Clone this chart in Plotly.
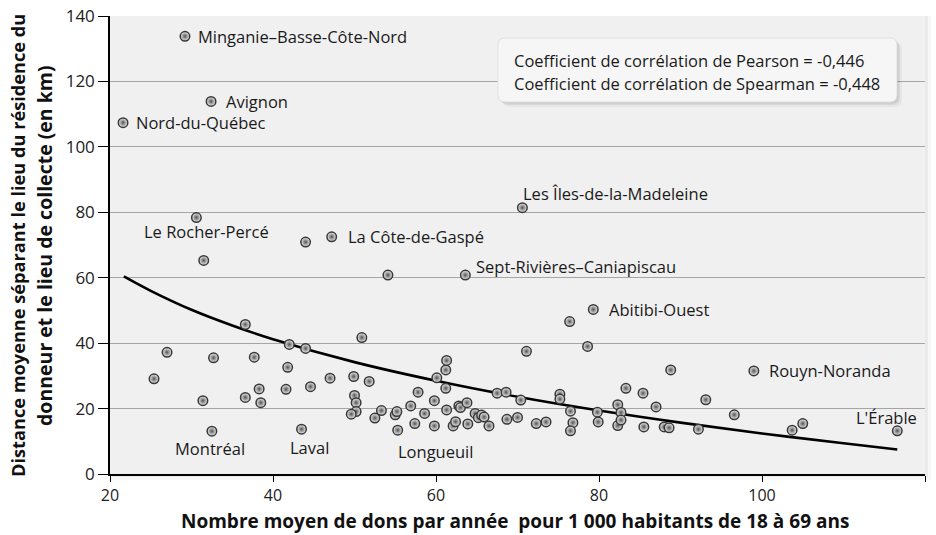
import plotly.graph_objects as go

# ---------------- data ----------------
x_pts = [25.4, 27.0, 31.4, 32.7, 36.6, 37.7, 36.6, 38.3, 38.5, 42.0, 44.0, 41.8, 41.6, 44.6, 47.0,
         50.9, 49.9, 51.8, 50.0, 50.2, 50.2, 49.6, 53.3, 52.5, 55.0, 55.2,
         56.9, 57.4, 57.8, 58.6, 59.8, 59.8, 60.1, 61.2, 61.2, 61.3, 61.3, 62.1, 62.4, 62.8, 63.0,
         63.8, 63.9, 64.8, 65.2, 65.6, 65.9, 66.5, 67.5, 68.6, 68.7, 70.0, 70.4, 71.1, 72.3, 73.5,
         75.2, 75.2, 76.4, 76.5, 76.8, 76.5, 78.6, 79.8, 79.9, 82.3, 82.7, 82.3, 82.7, 83.3, 85.4,
         85.5, 87.0, 88.0, 88.6, 88.8, 92.2, 93.1, 96.6, 103.7, 105.0,
         31.5, 44.0, 54.1]
y_pts = [29.1, 37.2, 22.4, 35.5, 45.7, 35.7, 23.4, 26.0, 21.8, 39.6, 38.4, 32.6, 25.9, 26.7, 29.3,
         41.7, 29.8, 28.3, 24.0, 21.8, 19.1, 18.3, 19.4, 17.1, 18.1, 19.1,
         20.8, 15.4, 25.0, 18.5, 14.7, 22.4, 29.4, 26.2, 31.8, 34.7, 19.6, 14.7, 16.0, 20.8, 20.3,
         21.8, 15.3, 18.5, 17.2, 18.0, 17.4, 14.7, 24.7, 25.0, 16.7, 17.3, 22.6, 37.5, 15.4, 15.9,
         24.4, 22.9, 46.6, 19.2, 15.7, 13.2, 39.0, 18.9, 15.9, 21.2, 18.8, 14.8, 16.5, 26.2, 24.7,
         14.4, 20.5, 14.4, 14.1, 31.8, 13.7, 22.7, 18.1, 13.4, 15.4,
         65.3, 70.9, 60.8]

lab_names = ["Minganie–Basse-Côte-Nord", "Avignon", "Nord-du-Québec", "Le Rocher-Percé",
             "La Côte-de-Gaspé", "Sept-Rivières–Caniapiscau", "Les Îles-de-la-Madeleine",
             "Abitibi-Ouest", "Rouyn-Noranda", "L'Érable", "Montréal", "Laval", "Longueuil"]
lab_x = [29.2, 32.4, 21.6, 30.6, 47.2, 63.6, 70.6, 79.3, 99.0, 116.6, 32.5, 43.5, 55.3]
lab_y = [133.8, 113.9, 107.4, 78.4, 72.5, 60.8, 81.4, 50.3, 31.5, 13.2, 13.1, 13.7, 13.4]

# fitted trend curve
curve_x = [21.7, 25, 30, 35, 40, 50, 60, 70, 80, 90, 100, 110, 116.6]
curve_y = [60.4, 56.0, 50.2, 45.4, 41.2, 34.2, 28.5, 23.6, 19.4, 15.7, 12.4, 9.4, 7.5]

x_ticks = [20, 40, 60, 80, 100, 120]
y_ticks = [0, 20, 40, 60, 80, 100, 120, 140]

stats_lines = ["Coefficient de corrélation de Pearson = -0,446",
               "Coefficient de corrélation de Spearman = -0,448"]
x_title = "Nombre moyen de dons par année  pour 1 000 habitants de 18 à 69 ans"
y_title = ["Distance moyenne séparant le lieu du résidence du",
           "donneur et le lieu de collecte (en km)"]

# label placement (anchor, xshift px, yshift px)
lab_style = [("left", 11, 0), ("left", 13, 0), ("left", 11, 0), ("center", 10, -14),
             ("left", 14, 0), ("left", 9, 9), ("left", -1, 14), ("left", 14, 0),
             ("left", 13, 0), ("right", 22, 13), ("center", -2, -17), ("center", 8, -18),
             ("center", 38, -21)]

FONT = "Open Sans"
LAB_SIZE = 16.5

fig = go.Figure()

marker = dict(size=9.5, color="#f0f0f0",
              gradient=dict(type="radial", color="#555555"),
              line=dict(color="#383838", width=1.5))

fig.add_trace(go.Scatter(x=curve_x, y=curve_y, mode="lines",
                         line=dict(color="black", width=2.6, shape="spline"),
                         hoverinfo="skip", showlegend=False))
fig.add_trace(go.Scatter(x=x_pts, y=y_pts, mode="markers", marker=marker,
                         showlegend=False))
fig.add_trace(go.Scatter(x=lab_x, y=lab_y, mode="markers", marker=marker,
                         text=lab_names, showlegend=False))

annotations = []
for name, xv, yv, (anc, xs, ys) in zip(lab_names, lab_x, lab_y, lab_style):
    annotations.append(dict(x=xv, y=yv, xref="x", yref="y", text=name, showarrow=False,
                            xanchor=anc, yanchor="middle", xshift=xs, yshift=ys,
                            font=dict(family=FONT, size=LAB_SIZE, color="#1a1a1a")))

# stats box text
for i, line in enumerate(stats_lines):
    annotations.append(dict(x=(512 - 110) / 815, y=(474 - (60 + 23.5 * i)) / 458,
                            xref="paper", yref="paper", text=line, showarrow=False,
                            xanchor="left", yanchor="middle",
                            font=dict(family=FONT, size=16.5, color="#1a1a1a")))

# axis titles
annotations.append(dict(x=(515 - 110) / 815, y=(474 - 521) / 458, xref="paper", yref="paper",
                        text="<b>" + x_title + "</b>", showarrow=False,
                        xanchor="center", yanchor="middle",
                        font=dict(family=FONT, size=19, color="#111")))
for line, cx, fs in zip(y_title, [18, 45], [18.2, 19.5]):
    annotations.append(dict(x=(cx - 110) / 815, y=(474 - 246) / 458, xref="paper", yref="paper",
                            text="<b>" + line + "</b>", showarrow=False, textangle=-90,
                            xanchor="center", yanchor="middle",
                            font=dict(family=FONT, size=fs, color="#111")))

# rounded stats box
def rounded_path(x0, y0, x1, y1, r):
    # pixel coords -> paper
    def px(x):
        return (x - 110) / 815
    def py(y):
        return (474 - y) / 458
    pts = [
        f"M {px(x0 + r)},{py(y0)}",
        f"L {px(x1 - r)},{py(y0)}",
        f"Q {px(x1)},{py(y0)} {px(x1)},{py(y0 + r)}",
        f"L {px(x1)},{py(y1 - r)}",
        f"Q {px(x1)},{py(y1)} {px(x1 - r)},{py(y1)}",
        f"L {px(x0 + r)},{py(y1)}",
        f"Q {px(x0)},{py(y1)} {px(x0)},{py(y1 - r)}",
        f"L {px(x0)},{py(y0 + r)}",
        f"Q {px(x0)},{py(y0)} {px(x0 + r)},{py(y0)}",
        "Z",
    ]
    return " ".join(pts)

shapes = []
for off, op in [(5, 0.04), (3, 0.06), (1.5, 0.08)]:
    shapes.append(dict(type="path", xref="paper", yref="paper",
                       path=rounded_path(498 + off, 38 + off, 897 + off, 102 + off, 7),
                       fillcolor=f"rgba(0,0,0,{op})", line=dict(width=0), layer="above"))
shapes.append(dict(type="path", xref="paper", yref="paper",
                   path=rounded_path(498, 38, 897, 102, 7),
                   fillcolor="#f6f6f6", line=dict(color="#e0e0e0", width=1), layer="above"))
# plot-area shadow on the right and below
for off, op in [(3, 0.05), (6, 0.03)]:
    shapes.append(dict(type="rect", xref="paper", yref="paper",
                       x0=1.0, x1=1.0 + off / 815, y0=-off / 458, y1=1.0,
                       fillcolor=f"rgba(0,0,0,{op})", line=dict(width=0), layer="below"))
    shapes.append(dict(type="rect", xref="paper", yref="paper",
                       x0=0.0, x1=1.0, y0=-off / 458, y1=0.0,
                       fillcolor=f"rgba(0,0,0,{op})", line=dict(width=0), layer="below"))

fig.update_layout(
    width=936, height=535,
    margin=dict(l=110, r=11, t=16, b=61),
    paper_bgcolor="white", plot_bgcolor="#f0f0f0",
    font=dict(family=FONT, color="#222"),
    annotations=annotations, shapes=shapes,
    xaxis=dict(range=[20, 120], tickvals=x_ticks, showgrid=False, zeroline=False,
               automargin=False,
               showline=True, linecolor="black", linewidth=1.5, ticks="outside",
               ticklen=6, tickcolor="black", tickfont=dict(family=FONT, size=16, color="#222")),
    yaxis=dict(range=[0, 140], tickvals=y_ticks, showgrid=True, gridcolor="#a5a5a5",
               automargin=False,
               gridwidth=1, zeroline=False, showline=True, linecolor="black", linewidth=1.5,
               ticks="outside", ticklen=10, tickcolor="black",
               tickfont=dict(family=FONT, size=17, color="#222")),
)

fig.write_html("out.html", config={"displayModeBar": False},
               post_script="document.body.style.margin='0';document.body.style.padding='0';")
